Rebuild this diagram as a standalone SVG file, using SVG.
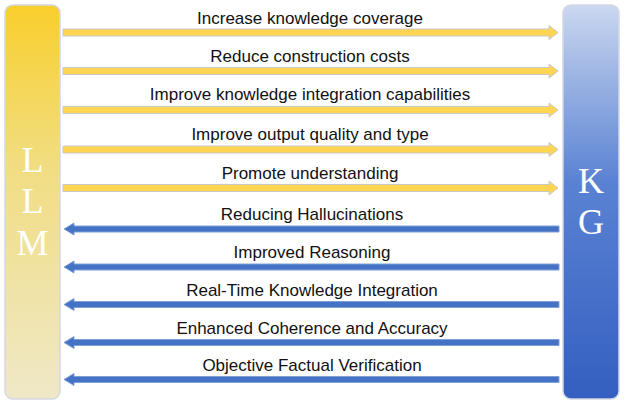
<svg xmlns="http://www.w3.org/2000/svg" width="624" height="405" viewBox="0 0 624 405">
<defs>
<linearGradient id="gLLM" x1="0" y1="0" x2="0" y2="1">
<stop offset="0" stop-color="#F9CF2C"/>
<stop offset="0.4" stop-color="#F1DD80"/>
<stop offset="1" stop-color="#EFE8C8"/>
</linearGradient>
<linearGradient id="gKG" x1="0" y1="0" x2="0" y2="1">
<stop offset="0" stop-color="#CAD7EF"/>
<stop offset="0.45" stop-color="#5A82D3"/>
<stop offset="1" stop-color="#345FC0"/>
</linearGradient>
<path id="ya" d="M0,-3.5 H486 V-7 L495,0 L486,7 V3.5 H0 Z"/>
<path id="ba" d="M0,0 L10,-6 V-3 H495 V3 H10 V6 Z"/>
</defs>
<style>
.bar{stroke:#D3D8E3;stroke-width:1.5}
.big{font-family:"Liberation Serif","Times New Roman",serif;font-size:36px;fill:#fff;text-anchor:middle}
.lbl{font-family:"Liberation Sans",Arial,sans-serif;font-size:17px;fill:#111;text-anchor:middle}
.y{fill:#FFD552;stroke:#C8C8C8;stroke-width:1}
.b{fill:#4472C4;stroke:#7F9FD8;stroke-width:1}
</style>
<rect width="624" height="405" fill="#fff"/>
<g id="LLM">
<rect class="bar" x="5" y="5" width="55" height="394" rx="8" fill="url(#gLLM)"/>
<text class="big" x="32.5" y="172">L</text>
<text class="big" x="32.5" y="213">L</text>
<text class="big" x="32.5" y="255">M</text>
</g>
<g id="KG">
<rect class="bar" x="563" y="5" width="56" height="394" rx="8" fill="url(#gKG)"/>
<text class="big" x="591" y="193">K</text>
<text class="big" x="591" y="234">G</text>
</g>
<g id="connectors">
<use href="#ya" class="y" x="63" y="32.5"/>
<use href="#ya" class="y" x="63" y="71"/>
<use href="#ya" class="y" x="63" y="110"/>
<use href="#ya" class="y" x="63" y="149.5"/>
<use href="#ya" class="y" x="63" y="188"/>
<use href="#ba" class="b" x="64" y="229"/>
<use href="#ba" class="b" x="64" y="267"/>
<use href="#ba" class="b" x="64" y="304.5"/>
<use href="#ba" class="b" x="64" y="342.5"/>
<use href="#ba" class="b" x="64" y="379.5"/>
</g>
<g id="labels">
<text class="lbl" x="310" y="24">Increase knowledge coverage</text>
<text class="lbl" x="310" y="62">Reduce construction costs</text>
<text class="lbl" x="310" y="100">Improve knowledge integration capabilities</text>
<text class="lbl" x="310" y="140">Improve output quality and type</text>
<text class="lbl" x="310" y="179">Promote understanding</text>
<text class="lbl" x="312" y="220">Reducing Hallucinations</text>
<text class="lbl" x="312" y="258">Improved Reasoning</text>
<text class="lbl" x="312" y="296">Real-Time Knowledge Integration</text>
<text class="lbl" x="312" y="334">Enhanced Coherence and Accuracy</text>
<text class="lbl" x="312" y="371">Objective Factual Verification</text>
</g>
</svg>
